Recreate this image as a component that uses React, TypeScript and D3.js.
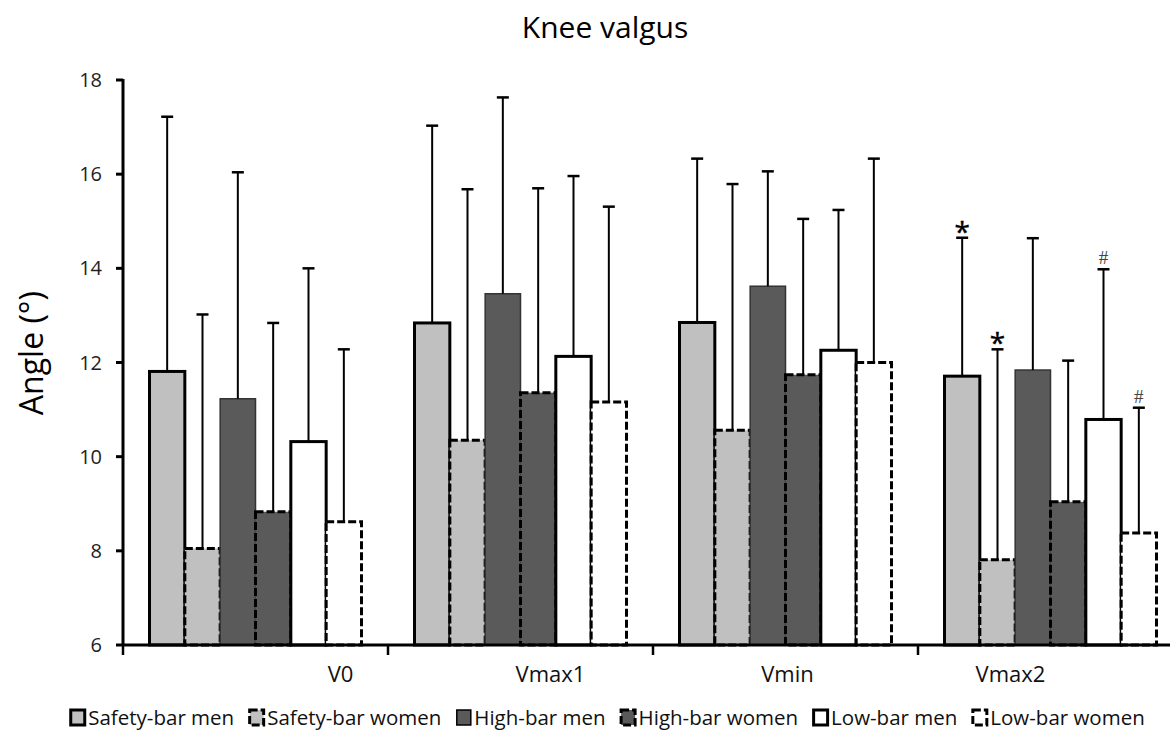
import { useEffect, useRef } from 'react'
import * as d3 from 'd3'

const PHASES = ['V0', 'Vmax1', 'Vmin', 'Vmax2']
const SERIES = [
  'Safety-bar men',
  'Safety-bar women',
  'High-bar men',
  'High-bar women',
  'Low-bar men',
  'Low-bar women',
]

// mean angle per phase (V0, Vmax1, Vmin, Vmax2)
const SAFETY_MEN = [11.81, 12.84, 12.85, 11.71]
const SAFETY_WOMEN = [8.05, 10.35, 10.56, 7.81]
const HIGH_MEN = [11.23, 13.46, 13.62, 11.84]
const HIGH_WOMEN = [8.83, 11.36, 11.74, 9.04]
const LOW_MEN = [10.32, 12.13, 12.26, 10.79]
const LOW_WOMEN = [8.62, 11.16, 12.0, 8.38]

// standard deviations (upper error bar)
const SAFETY_MEN_SD = [5.41, 4.19, 3.48, 2.94]
const SAFETY_WOMEN_SD = [4.97, 5.33, 5.23, 4.47]
const HIGH_MEN_SD = [4.81, 4.17, 2.44, 2.8]
const HIGH_WOMEN_SD = [4.01, 4.34, 3.31, 3.0]
const LOW_MEN_SD = [3.68, 3.83, 2.98, 3.19]
const LOW_WOMEN_SD = [3.66, 4.15, 4.33, 2.66]

const MEANS = [SAFETY_MEN, SAFETY_WOMEN, HIGH_MEN, HIGH_WOMEN, LOW_MEN, LOW_WOMEN]
const SDS = [SAFETY_MEN_SD, SAFETY_WOMEN_SD, HIGH_MEN_SD, HIGH_WOMEN_SD, LOW_MEN_SD, LOW_WOMEN_SD]

const Y_TICKS = [6, 8, 10, 12, 14, 16, 18]

const SIGNIFICANCE = [
  { series: 'Safety-bar men', phase: 'Vmax2', mark: '*' },
  { series: 'Safety-bar women', phase: 'Vmax2', mark: '*' },
  { series: 'Low-bar men', phase: 'Vmax2', mark: '#' },
  { series: 'Low-bar women', phase: 'Vmax2', mark: '#' },
]

const FILLS = ['#c0c0c0', '#c0c0c0', '#5a5a5a', '#5a5a5a', '#ffffff', '#ffffff']
// category labels in the source sit off-centre from their bar groups
const LABEL_SHIFT = [85, 30, 2, -40]

const FONT = '"Open Sans", sans-serif'

export default function App() {
  const svgRef = useRef<SVGSVGElement>(null)

  useEffect(() => {
    if (!svgRef.current) return
    const width = 1170
    const height = 753
    const svg = d3.select(svgRef.current)
    svg.selectAll('*').remove()
    svg.attr('width', width).attr('height', height)

    const left = 123
    const groupW = 265
    const x0 = d3.scaleBand<string>().domain(PHASES).range([left, left + groupW * PHASES.length])
    const x1 = d3.scaleBand<string>().domain(SERIES).range([0, groupW]).paddingOuter(0.75)
    const y = d3.scaleLinear().domain([6, 18]).range([645, 80])

    const isWomen = (i: number) => i % 2 === 1
    const strokeW = (i: number) => (i === 2 ? 1.5 : 3)

    // title
    svg.append('text')
      .attr('x', 605).attr('y', 38)
      .attr('text-anchor', 'middle')
      .attr('font-family', FONT).attr('font-size', 30)
      .text('Knee valgus')

    // y label
    svg.append('text')
      .attr('transform', `translate(43, ${y(12.2)}) rotate(-90)`)
      .attr('text-anchor', 'middle')
      .attr('font-family', FONT).attr('font-size', 32)
      .text('Angle (°)')

    // bars
    PHASES.forEach((phase, pi) => {
      SERIES.forEach((s, si) => {
        const v = MEANS[si][pi]
        const bx = x0(phase)! + x1(s)!
        const bw = x1.bandwidth()
        svg.append('rect')
          .attr('x', bx).attr('y', y(v))
          .attr('width', bw).attr('height', y(6) - y(v))
          .attr('fill', FILLS[si])
          .attr('stroke', si === 2 ? '#333' : '#000')
          .attr('stroke-width', strokeW(si))
          .attr('stroke-dasharray', isWomen(si) ? '8 3' : null)
      })
    })

    // error bars
    PHASES.forEach((phase, pi) => {
      SERIES.forEach((s, si) => {
        const v = MEANS[si][pi]
        const top = v + SDS[si][pi]
        const cx = x0(phase)! + x1(s)! + x1.bandwidth() / 2
        svg.append('line')
          .attr('x1', cx).attr('x2', cx)
          .attr('y1', y(v)).attr('y2', y(top))
          .attr('stroke', '#000').attr('stroke-width', 2)
        svg.append('line')
          .attr('x1', cx - 6).attr('x2', cx + 6)
          .attr('y1', y(top)).attr('y2', y(top))
          .attr('stroke', '#000').attr('stroke-width', 2.5)
      })
    })

    // significance markers
    SIGNIFICANCE.forEach(({ series, phase, mark }) => {
      const si = SERIES.indexOf(series)
      const pi = PHASES.indexOf(phase)
      const top = MEANS[si][pi] + SDS[si][pi]
      const cx = x0(phase)! + x1(series)! + x1.bandwidth() / 2
      if (mark === '*') {
        svg.append('text')
          .attr('x', cx).attr('y', y(top) + 4)
          .attr('text-anchor', 'middle')
          .attr('font-family', FONT).attr('font-size', 28)
          .attr('stroke', '#000').attr('stroke-width', 0.4)
          .text(mark)
      } else {
        svg.append('text')
          .attr('x', cx).attr('y', y(top) - 5)
          .attr('text-anchor', 'middle')
          .attr('font-family', '"Liberation Serif", serif').attr('font-size', 19)
          .attr('fill', '#444')
          .text(mark)
      }
    })

    // y axis
    svg.append('line')
      .attr('x1', left).attr('x2', left)
      .attr('y1', y(18) - 1).attr('y2', y(6) + 1)
      .attr('stroke', '#000').attr('stroke-width', 3)
    Y_TICKS.forEach(t => {
      svg.append('line')
        .attr('x1', left - 7).attr('x2', left)
        .attr('y1', y(t)).attr('y2', y(t))
        .attr('stroke', '#000').attr('stroke-width', 3)
      svg.append('text')
        .attr('x', 102).attr('y', y(t) + 7)
        .attr('text-anchor', 'end')
        .attr('font-family', FONT).attr('font-size', 20)
        .attr('fill', '#222')
        .text(t)
    })

    // x axis
    svg.append('line')
      .attr('x1', left - 1).attr('x2', width)
      .attr('y1', y(6)).attr('y2', y(6))
      .attr('stroke', '#000').attr('stroke-width', 3)
    PHASES.forEach((phase, pi) => {
      const bx = x0(phase)!
      svg.append('line')
        .attr('x1', bx).attr('x2', bx)
        .attr('y1', y(6)).attr('y2', y(6) + 10)
        .attr('stroke', '#000').attr('stroke-width', 2.5)
      svg.append('text')
        .attr('x', bx + x0.bandwidth() / 2 + LABEL_SHIFT[pi]).attr('y', 682)
        .attr('text-anchor', 'middle')
        .attr('font-family', FONT).attr('font-size', 22)
        .attr('fill', '#111')
        .text(phase)
    })

    // legend
    const legend = svg.append('g')
    let cursor = 0
    SERIES.forEach((s, si) => {
      const g = legend.append('g').attr('transform', `translate(${cursor},0)`)
      g.append('rect')
        .attr('x', 1.5).attr('y', -8)
        .attr('width', 14).attr('height', 15)
        .attr('fill', FILLS[si])
        .attr('stroke', '#000')
        .attr('stroke-width', si === 2 ? 1.5 : 3)
        .attr('stroke-dasharray', isWomen(si) ? '8 3' : null)
      const txt = g.append('text')
        .attr('x', 19).attr('y', 7)
        .attr('font-family', FONT).attr('font-size', 20.5)
        .attr('fill', '#111')
        .text(s)
      const tw = (txt.node() as SVGTextElement).getComputedTextLength()
      cursor += 19 + tw + 14
    })
    const total = cursor - 14
    legend.attr('transform', `translate(${607 - total / 2}, 718)`)
  }, [])

  return (
    <div style={{ position: 'absolute', left: 0, top: 0, width: 1170, height: 753, background: '#fff' }}>
      <svg ref={svgRef} style={{ display: 'block' }} />
    </div>
  )
}
